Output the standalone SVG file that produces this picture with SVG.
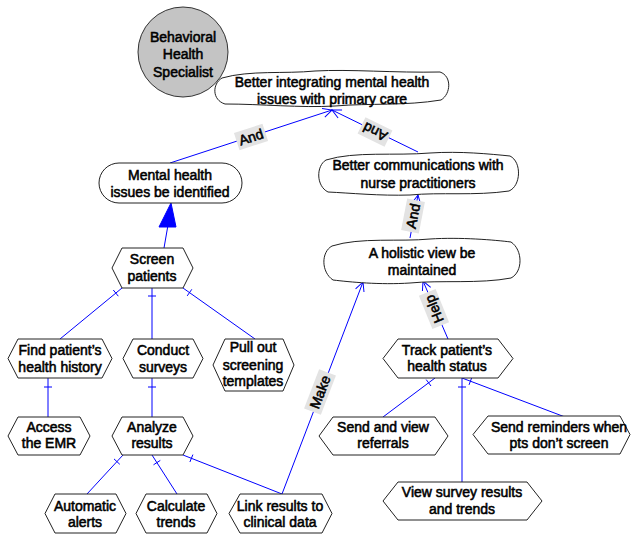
<svg xmlns="http://www.w3.org/2000/svg" width="631" height="534" viewBox="0 0 631 534">
<defs>
<style>
.node{fill:#fff;stroke:#222;stroke-width:1}
.t{font-family:"Liberation Sans",Arial,sans-serif;font-size:14px;fill:#000;stroke:#000;stroke-width:0.55;text-anchor:middle}
.c{fill:none;stroke:#0000ff;stroke-width:1}
.lbl{fill:#e3e3e3}
</style>
<marker id="open" markerUnits="userSpaceOnUse" markerWidth="20" markerHeight="20" refX="0" refY="0" viewBox="-10 -10 20 20" orient="auto" overflow="visible">
<path d="M-9,-4.5 L0,0 L-9,4.5" fill="none" stroke="#0000ff" stroke-width="1"/>
</marker>
</defs>
<rect width="631" height="534" fill="#fff"/>

<g id="connectors">
<line class="c" x1="170" y1="163" x2="332" y2="110" marker-end="url(#open)"/>
<line class="c" x1="418" y1="152" x2="332" y2="110" marker-end="url(#open)"/>
<line class="c" x1="410" y1="238" x2="418" y2="195" marker-end="url(#open)"/>
<line class="c" x1="448" y1="339" x2="423" y2="281" marker-end="url(#open)"/>
<line class="c" x1="282" y1="494" x2="363" y2="282" marker-end="url(#open)"/>
<line class="c" x1="164" y1="248" x2="168" y2="225"/>
<polygon points="171,203 159,227 176,227" fill="#0000ff" stroke="#0000ff" stroke-width="1"/>
<line class="c" x1="122" y1="288" x2="60" y2="339"/>
<line class="c" x1="118.3" y1="296.2" x2="113.3" y2="290"/>
<line class="c" x1="152" y1="288" x2="152" y2="339"/>
<line class="c" x1="148" y1="296" x2="156" y2="296"/>
<line class="c" x1="183" y1="288" x2="255" y2="339"/>
<line class="c" x1="187.2" y1="295.9" x2="191.8" y2="289.3"/>
<line class="c" x1="48" y1="378" x2="48" y2="417"/>
<line class="c" x1="44" y1="387" x2="52" y2="387"/>
<line class="c" x1="152" y1="378" x2="152" y2="417"/>
<line class="c" x1="148" y1="387" x2="156" y2="387"/>
<line class="c" x1="123" y1="455" x2="87" y2="494"/>
<line class="c" x1="119.8" y1="464.3" x2="114" y2="458.9"/>
<line class="c" x1="152" y1="455" x2="177" y2="494"/>
<line class="c" x1="153.5" y1="464.8" x2="160.3" y2="460.4"/>
<line class="c" x1="183" y1="455" x2="282" y2="494"/>
<line class="c" x1="189.9" y1="462" x2="192.9" y2="454.6"/>
<line class="c" x1="435" y1="378" x2="383" y2="417"/>
<line class="c" x1="431" y1="386" x2="426.2" y2="379.6"/>
<line class="c" x1="462" y1="378" x2="462" y2="482"/>
<line class="c" x1="458" y1="387" x2="466" y2="387"/>
<line class="c" x1="462" y1="378" x2="565" y2="417"/>
<line class="c" x1="469" y1="384.9" x2="471.8" y2="377.5"/>
<g transform="translate(251,137) rotate(-18)">
<rect class="lbl" x="-15" y="-9" width="30" height="18"/>
<text class="t" x="0" y="5">And</text>
</g>
<g transform="translate(375,132) rotate(206)">
<rect class="lbl" x="-15" y="-9" width="30" height="18"/>
<text class="t" x="0" y="5">And</text>
</g>
<g transform="translate(413,216) rotate(-79)">
<rect class="lbl" x="-16" y="-9" width="32" height="18"/>
<text class="t" x="0" y="5">And</text>
</g>
<g transform="translate(434,309) rotate(-112)">
<rect class="lbl" x="-18" y="-9" width="36" height="18"/>
<text class="t" x="0" y="5">Help</text>
</g>
<g transform="translate(320,392) rotate(-69)">
<rect class="lbl" x="-21" y="-9" width="42" height="18"/>
<text class="t" x="0" y="5">Make</text>
</g>
</g>

<g id="actor-bhs">
<circle cx="183" cy="52" r="45" fill="#c4c4c4" stroke="#333" stroke-width="1"/>
<text class="t" x="183" y="42">Behavioral</text>
<text class="t" x="183" y="59">Health</text>
<text class="t" x="183" y="77">Specialist</text>
</g>

<g id="goal-integrating">
<path class="node" d="M222,78 C250,70 285,74 315,71 C350,69 395,73 440,72 C452,76 451,94 441,100 C405,106 370,103 335,106 C300,108 262,104 225,104 C212,100 212,84 222,78 Z"/>
<text class="t" x="332" y="87">Better integrating mental health</text>
<text class="t" x="332" y="104">issues with primary care</text>
</g>

<g id="goal-mental">
<rect class="node" x="99" y="163" width="143" height="40" rx="20" ry="20"/>
<text class="t" x="170" y="180">Mental health</text>
<text class="t" x="170" y="197">issues be identified</text>
</g>

<g id="goal-communications">
<path class="node" d="M326,160 C355,151 395,156 430,153 C460,151 490,154 510,156 C522,162 521,186 509,191 C475,196 440,192 410,195 C380,196 350,193 328,192 C316,186 316,166 326,160 Z"/>
<text class="t" x="418" y="170">Better communications with</text>
<text class="t" x="418" y="188">nurse practitioners</text>
</g>

<g id="goal-holistic">
<path class="node" d="M332,246 C360,237 400,242 430,239 C460,237 495,240 511,242 C523,250 523,272 511,278 C480,284 440,280 410,283 C380,285 350,282 333,280 C321,272 321,252 332,246 Z"/>
<text class="t" x="422" y="258">A holistic view be</text>
<text class="t" x="422" y="275">maintained</text>
</g>

<g id="task-screen">
<polygon class="node" points="122,248 183,248 193,268 183,288 122,288 112,268"/>
<text class="t" x="152" y="264">Screen</text>
<text class="t" x="152" y="281">patients</text>
</g>

<g id="task-find">
<polygon class="node" points="18,339 102,339 112,358.5 102,378 18,378 8,358.5"/>
<text class="t" x="60" y="355">Find patient’s</text>
<text class="t" x="60" y="372">health history</text>
</g>

<g id="task-conduct">
<polygon class="node" points="133,339 193,339 203,358.5 193,378 133,378 123,358.5"/>
<text class="t" x="163" y="355">Conduct</text>
<text class="t" x="163" y="372">surveys</text>
</g>

<g id="task-pull">
<polygon class="node" points="225,339 283,339 294,365 283,391 225,391 213,365"/>
<text class="t" x="253" y="352">Pull out</text>
<text class="t" x="253" y="370">screening</text>
<text class="t" x="253" y="386">templates</text>
</g>

<g id="task-access">
<polygon class="node" points="18,417 80,417 90,436 80,455 18,455 8,436"/>
<text class="t" x="49" y="432">Access</text>
<text class="t" x="49" y="448">the EMR</text>
</g>

<g id="task-analyze">
<polygon class="node" points="122,417 183,417 193,436 183,455 122,455 112,436"/>
<text class="t" x="152" y="432">Analyze</text>
<text class="t" x="152" y="448">results</text>
</g>

<g id="task-alerts">
<polygon class="node" points="55,494 116,494 126,513.5 116,533 55,533 45,513.5"/>
<text class="t" x="85" y="511">Automatic</text>
<text class="t" x="85" y="527">alerts</text>
</g>

<g id="task-trends">
<polygon class="node" points="146,494 207,494 217,513.5 207,533 146,533 136,513.5"/>
<text class="t" x="176" y="511">Calculate</text>
<text class="t" x="176" y="527">trends</text>
</g>

<g id="task-link">
<polygon class="node" points="240,494 322,494 332,513.5 322,533 240,533 229,513.5"/>
<text class="t" x="280" y="511">Link results to</text>
<text class="t" x="280" y="527">clinical data</text>
</g>

<g id="task-track">
<polygon class="node" points="398,339 498,339 513,358.5 498,378 398,378 383,358.5"/>
<text class="t" x="447" y="355">Track patient’s</text>
<text class="t" x="447" y="371">health status</text>
</g>

<g id="task-referrals">
<polygon class="node" points="333,417 435,417 448,436 435,455 333,455 319,436"/>
<text class="t" x="383" y="432">Send and view</text>
<text class="t" x="383" y="448">referrals</text>
</g>

<g id="task-reminders">
<polygon class="node" points="488,416 620,416 630,434.5 620,454 488,454 473,434.5"/>
<text class="t" x="559" y="432">Send reminders when</text>
<text class="t" x="559" y="448">pts don’t screen</text>
</g>

<g id="task-view">
<polygon class="node" points="398,482 527,482 542,501 527,520 398,520 383,501"/>
<text class="t" x="462" y="497">View survey results</text>
<text class="t" x="462" y="514">and trends</text>
</g>
</svg>
